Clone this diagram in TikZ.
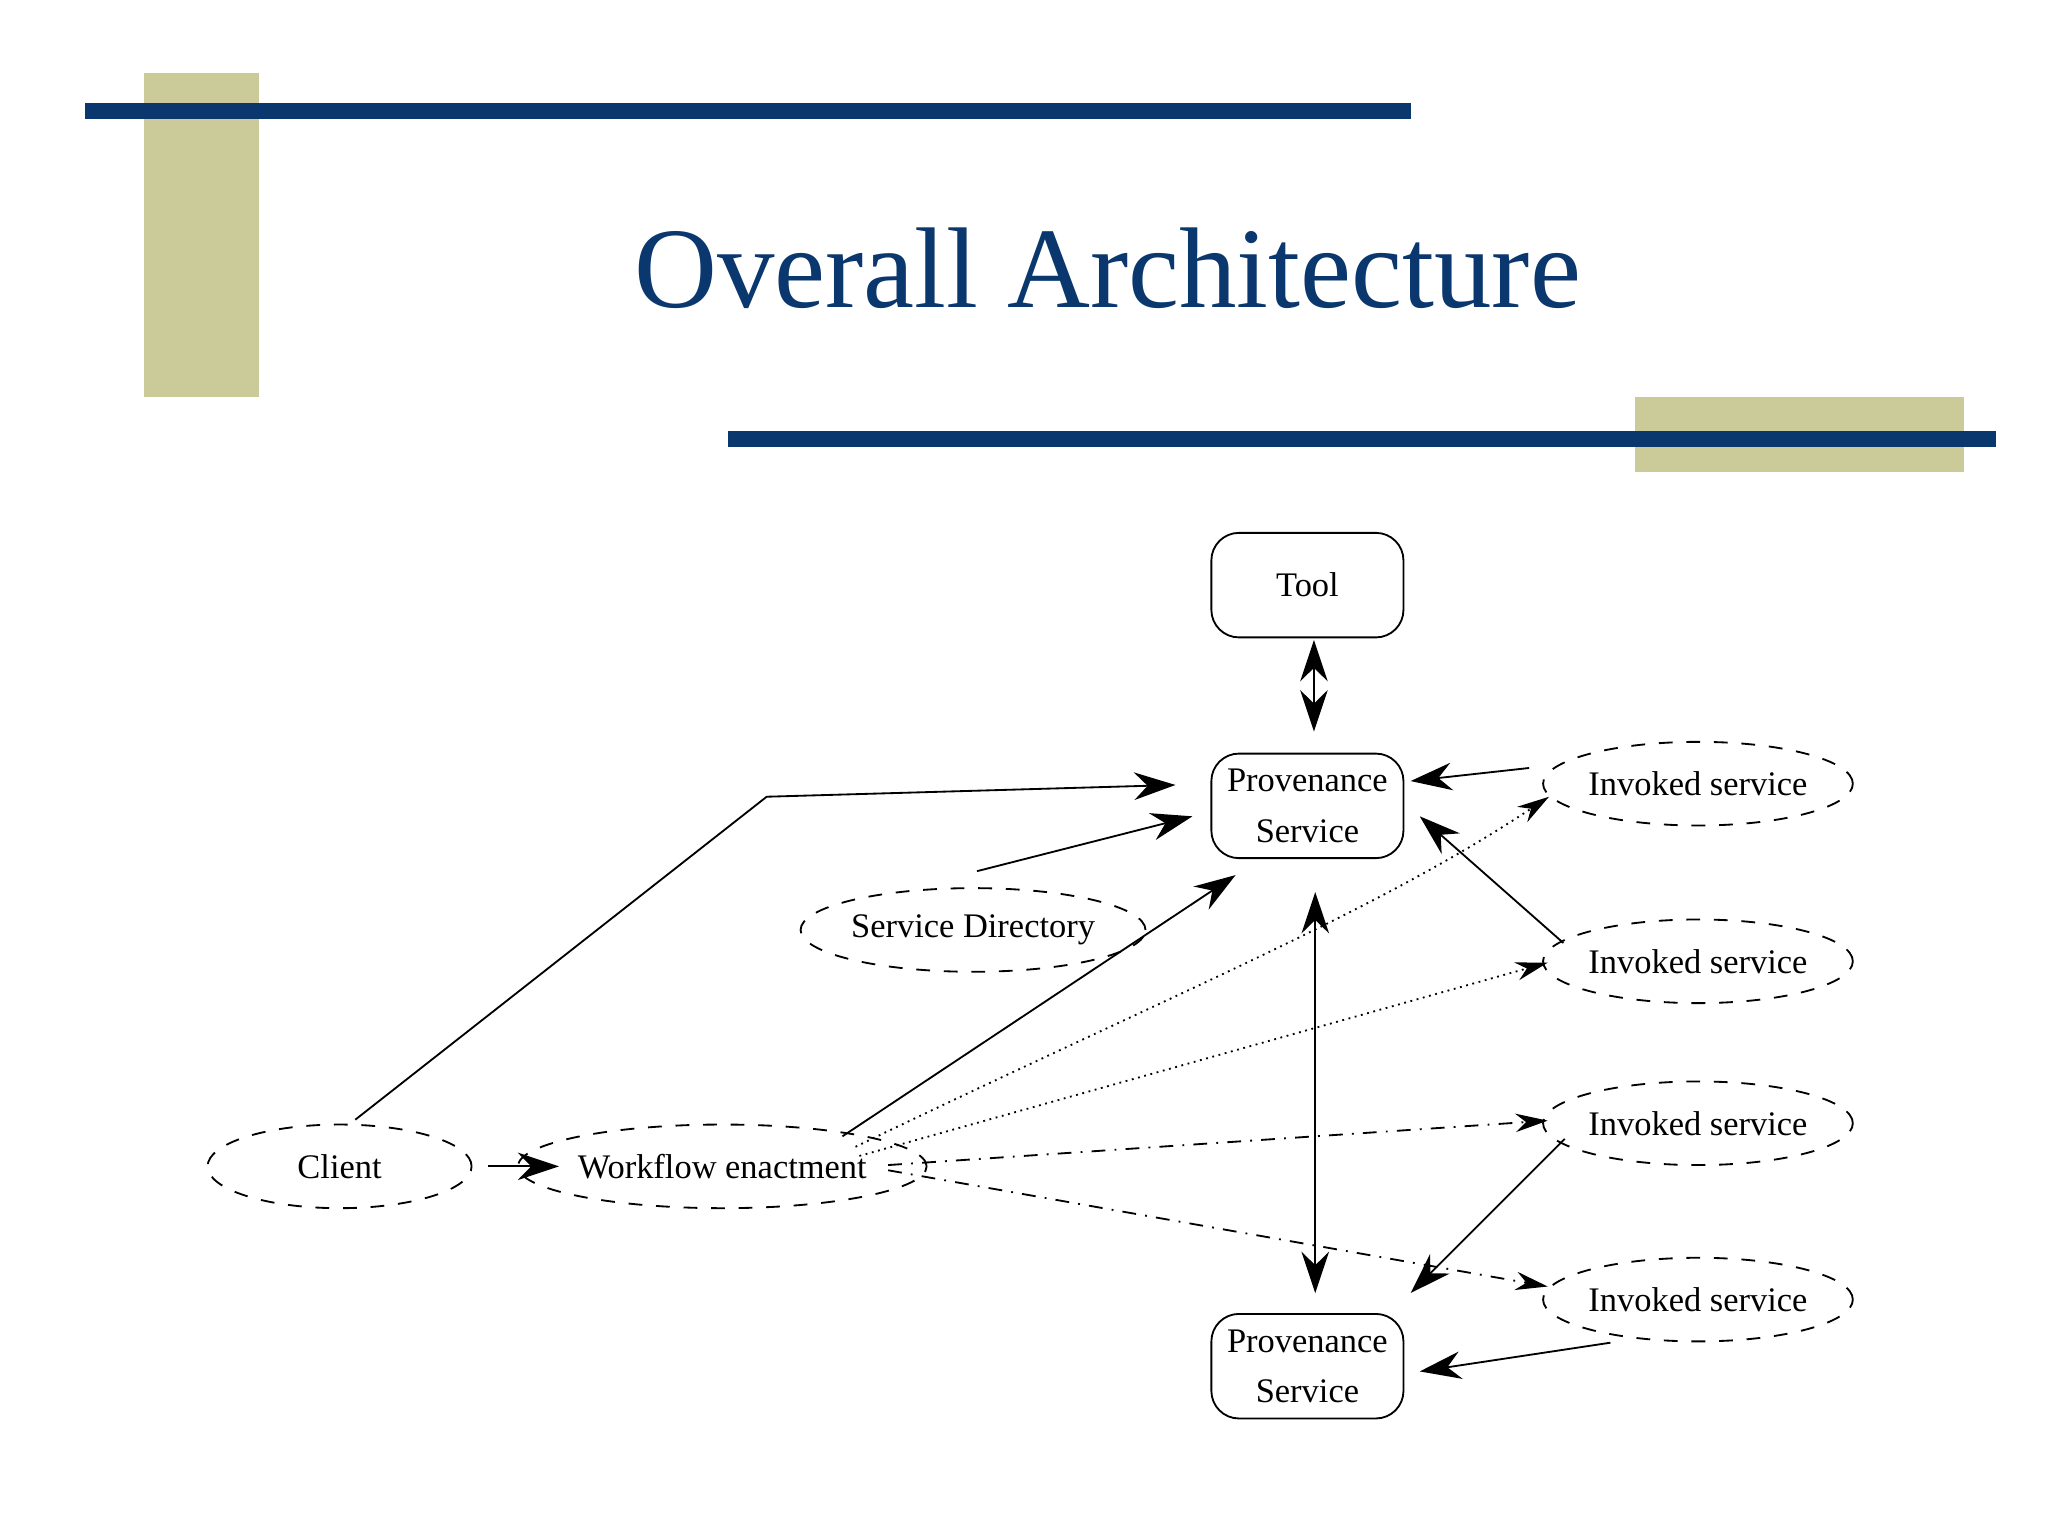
\documentclass[tikz,border=0pt]{standalone}
\usepackage{fontspec}
\setmainfont{Liberation Serif}
\usetikzlibrary{arrows.meta,shapes.geometric}
\definecolor{navy}{RGB}{10,55,110}
\definecolor{khaki}{RGB}{203,203,154}
\begin{document}
\begin{tikzpicture}[x=0.01cm,y=-0.01cm,
  lbl/.style={font=\fontsize{7.5}{9}\selectfont},
  ell/.style={draw,dashed,ellipse,minimum width=2.02cm,minimum height=0.64cm,lbl,inner sep=0pt},
  pbox/.style={draw,rounded corners=6pt,minimum width=1.47cm,minimum height=0.8cm,lbl,align=center,inner sep=0pt},
  arr/.style={-{Stealth[length=9pt,width=6pt]},thin},
  darr/.style={{Stealth[length=9pt,width=6pt]}-{Stealth[length=9pt,width=6pt]},thin},
  dotarr/.style={-{Stealth[length=7pt,width=4pt]},densely dotted,thin},
  dasharr/.style={-{Stealth[length=7pt,width=4pt]},dash dot,thin}]
\useasboundingbox (0,0) rectangle (1568,1176);
\fill[white] (0,0) rectangle (1568,1176);
\fill[khaki] (110,56) rectangle (198,304);
\fill[navy] (65,79) rectangle (1080,91);
\fill[khaki] (1252,304) rectangle (1504,361);
\fill[navy] (557,330) rectangle (1528,342);
\node[text=navy,font=\fontsize{25}{30}\selectfont] (title) at (848,205) {Overall Architecture};
\node[pbox] (tool) at (1001,448) {Tool};
\node[pbox] (p1) at (1001,617) {Provenance\\[2pt]Service};
\node[pbox] (p2) at (1001,1046) {Provenance\\[2pt]Service};
\node[ell] (i1) at (1300,600) {Invoked service};
\node[ell] (i2) at (1300,736) {Invoked service};
\node[ell] (i3) at (1300,860) {Invoked service};
\node[ell] (i4) at (1300,995) {Invoked service};
\node[ell] (sd) at (745,712) {Service Directory};
\node[ell] (cl) at (260,893) {Client};
\node[ell,minimum width=2.1cm] (wf) at (553,893) {Workflow enactment};
\draw[darr] (1006,490) -- (1006,560);
\draw[arr] (cl.north) ++(12,-3) -- (587,610) -- (900,601);
\draw[arr] (748,667) -- (913,625);
\draw[arr] (645,870) -- (946,670);
\draw[darr] (1007,683) -- (1007,990);
\draw[arr] (i1.west) ++(-10,-12) -- (1080,598);
\draw[arr] (1197,722) -- (1087,625);
\draw[arr] (1198,872) -- (1080,990);
\draw[arr] (1233,1028) -- (1087,1050);
\draw[arr] (cl.east) ++(12,0) -- (428,893);
\draw[dotarr] (655,878) .. controls (900,760) and (1050,700) .. (1186,610);
\draw[dotarr] (658,885) -- (1185,737);
\draw[dasharr] (680,892) -- (1185,858);
\draw[dasharr] (680,896) -- (1185,985);
\end{tikzpicture}
\end{document}
